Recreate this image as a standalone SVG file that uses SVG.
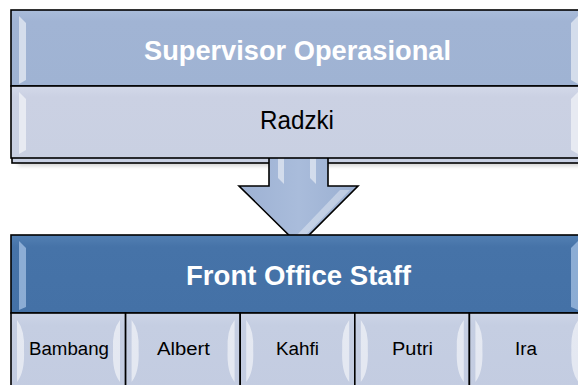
<svg xmlns="http://www.w3.org/2000/svg" width="578" height="385" viewBox="0 0 578 385">
<defs>
<style>
.box{stroke:#000;stroke-width:1.6}
.hdr{fill:url(#gHdr)}
.sub{fill:url(#gSub)}
.fo{fill:url(#gFo)}
.cell{fill:url(#gCell)}
.hl{fill:#fff;opacity:0.55}
.t-w{font-family:"Liberation Sans",Arial,sans-serif;font-weight:bold;fill:#fff;text-anchor:middle}
.t-b{font-family:"Liberation Sans",Arial,sans-serif;fill:#000;text-anchor:middle}
</style>
<linearGradient id="gHdr" x1="0" y1="0" x2="0" y2="1"><stop offset="0" stop-color="#A9BCDA"/><stop offset="0.15" stop-color="#A1B4D4"/><stop offset="1" stop-color="#9FB3D3"/></linearGradient>
<linearGradient id="gSub" x1="0" y1="0" x2="0" y2="1"><stop offset="0" stop-color="#D3D9E9"/><stop offset="0.15" stop-color="#CBD1E3"/><stop offset="1" stop-color="#C9D0E2"/></linearGradient>
<linearGradient id="gFo" x1="0" y1="0" x2="0" y2="1"><stop offset="0" stop-color="#5380B3"/><stop offset="0.15" stop-color="#4673A8"/><stop offset="1" stop-color="#4471A6"/></linearGradient>
<linearGradient id="gCell" x1="0" y1="0" x2="0" y2="1"><stop offset="0" stop-color="#CDD5E7"/><stop offset="0.15" stop-color="#C5CEE2"/><stop offset="1" stop-color="#C3CCE1"/></linearGradient>
<linearGradient id="gArrow" x1="0" y1="0" x2="1" y2="0"><stop offset="0" stop-color="#9DB1D3"/><stop offset="0.5" stop-color="#A9BCDB"/><stop offset="1" stop-color="#9AAFD1"/></linearGradient>
<filter id="sh" x="-5%" y="-5%" width="110%" height="130%"><feGaussianBlur stdDeviation="2"/></filter>
</defs>

<!-- shadow layer behind the top block -->
<rect x="18" y="20" width="570" height="146" fill="#000" opacity="0.18" filter="url(#sh)"/>
<rect x="12" y="13" width="576" height="150" fill="#C8D0E3" class="box"/>

<g id="connectors">
  <path d="M269,157 L328,157 L328,186 L358,186 L299,245 L239,186 L269,186 Z" fill="url(#gArrow)" stroke="#000" stroke-width="1.6" stroke-linejoin="miter"/>
  <path d="M278,158 L284,158 L284,184 L278,178 Z" fill="#fff" opacity="0.5"/>
  <path d="M310,158 L316,158 L316,184 L310,178 Z" fill="#fff" opacity="0.5"/>
  <path d="M340,190 L350,190 L303,238 L296,236 Z" fill="#fff" opacity="0.35"/>
</g>

<g id="node-supervisor">
  <rect x="11" y="10" width="576" height="76" class="box hdr"/>
  <path d="M19,16 L26,23 L26,80 L19,84 Z" class="hl"/>
  <path d="M578,16 L571,23 L571,80 L578,84 Z" class="hl"/>
  <text x="297.5" y="60" class="t-w" font-size="28" textLength="307" lengthAdjust="spacingAndGlyphs">Supervisor Operasional</text>
</g>

<g id="node-radzki">
  <rect x="11" y="86" width="576" height="72" class="box sub"/>
  <path d="M19,92 L26,99 L26,150 L19,154 Z" class="hl"/>
  <path d="M578,92 L571,99 L571,150 L578,154 Z" class="hl"/>
  <text x="297" y="129" class="t-b" font-size="26" textLength="74" lengthAdjust="spacingAndGlyphs">Radzki</text>
</g>

<g id="node-front-office">
  <rect x="11" y="235" width="576" height="78" class="box fo"/>
  <path d="M19,241 L26,248 L26,307 L19,310 Z" fill="#9DBBE0" opacity="0.8"/>
  <path d="M578,241 L571,248 L571,307 L578,310 Z" fill="#9DBBE0" opacity="0.8"/>
  <text x="298.5" y="285" class="t-w" font-size="27" textLength="225" lengthAdjust="spacingAndGlyphs">Front Office Staff</text>
</g>

<g id="node-bambang">
  <rect x="11" y="313" width="114.6" height="80" class="box cell"/>
  <path d="M17,320 Q25,330 24,350 Q25,372 17,382 Z" class="hl"/>
  <path d="M120,320 Q112,330 113,350 Q112,372 120,382 Z" class="hl"/>
  <text x="69" y="355" class="t-b" font-size="18" textLength="80" lengthAdjust="spacingAndGlyphs">Bambang</text>
</g>

<g id="node-albert">
  <rect x="125.6" y="313" width="114.6" height="80" class="box cell"/>
  <path d="M131.6,320 Q139.6,330 138.6,350 Q139.6,372 131.6,382 Z" class="hl"/>
  <path d="M234.6,320 Q226.6,330 227.6,350 Q226.6,372 234.6,382 Z" class="hl"/>
  <text x="183.5" y="355" class="t-b" font-size="18" textLength="53" lengthAdjust="spacingAndGlyphs">Albert</text>
</g>

<g id="node-kahfi">
  <rect x="240.2" y="313" width="114.6" height="80" class="box cell"/>
  <path d="M246.2,320 Q254.2,330 253.2,350 Q254.2,372 246.2,382 Z" class="hl"/>
  <path d="M349.2,320 Q341.2,330 342.2,350 Q341.2,372 349.2,382 Z" class="hl"/>
  <text x="297.5" y="355" class="t-b" font-size="18" textLength="43" lengthAdjust="spacingAndGlyphs">Kahfi</text>
</g>

<g id="node-putri">
  <rect x="354.8" y="313" width="114.6" height="80" class="box cell"/>
  <path d="M360.8,320 Q368.8,330 367.8,350 Q368.8,372 360.8,382 Z" class="hl"/>
  <path d="M463.8,320 Q455.8,330 456.8,350 Q455.8,372 463.8,382 Z" class="hl"/>
  <text x="412.5" y="355" class="t-b" font-size="18" textLength="41" lengthAdjust="spacingAndGlyphs">Putri</text>
</g>

<g id="node-ira">
  <rect x="469.4" y="313" width="114.6" height="80" class="box cell"/>
  <path d="M475.4,320 Q483.4,330 482.4,350 Q483.4,372 475.4,382 Z" class="hl"/>
  <path d="M578.4,320 Q570.4,330 571.4,350 Q570.4,372 578.4,382 Z" class="hl"/>
  <text x="526" y="355" class="t-b" font-size="18" textLength="22" lengthAdjust="spacingAndGlyphs">Ira</text>
</g>
</svg>
